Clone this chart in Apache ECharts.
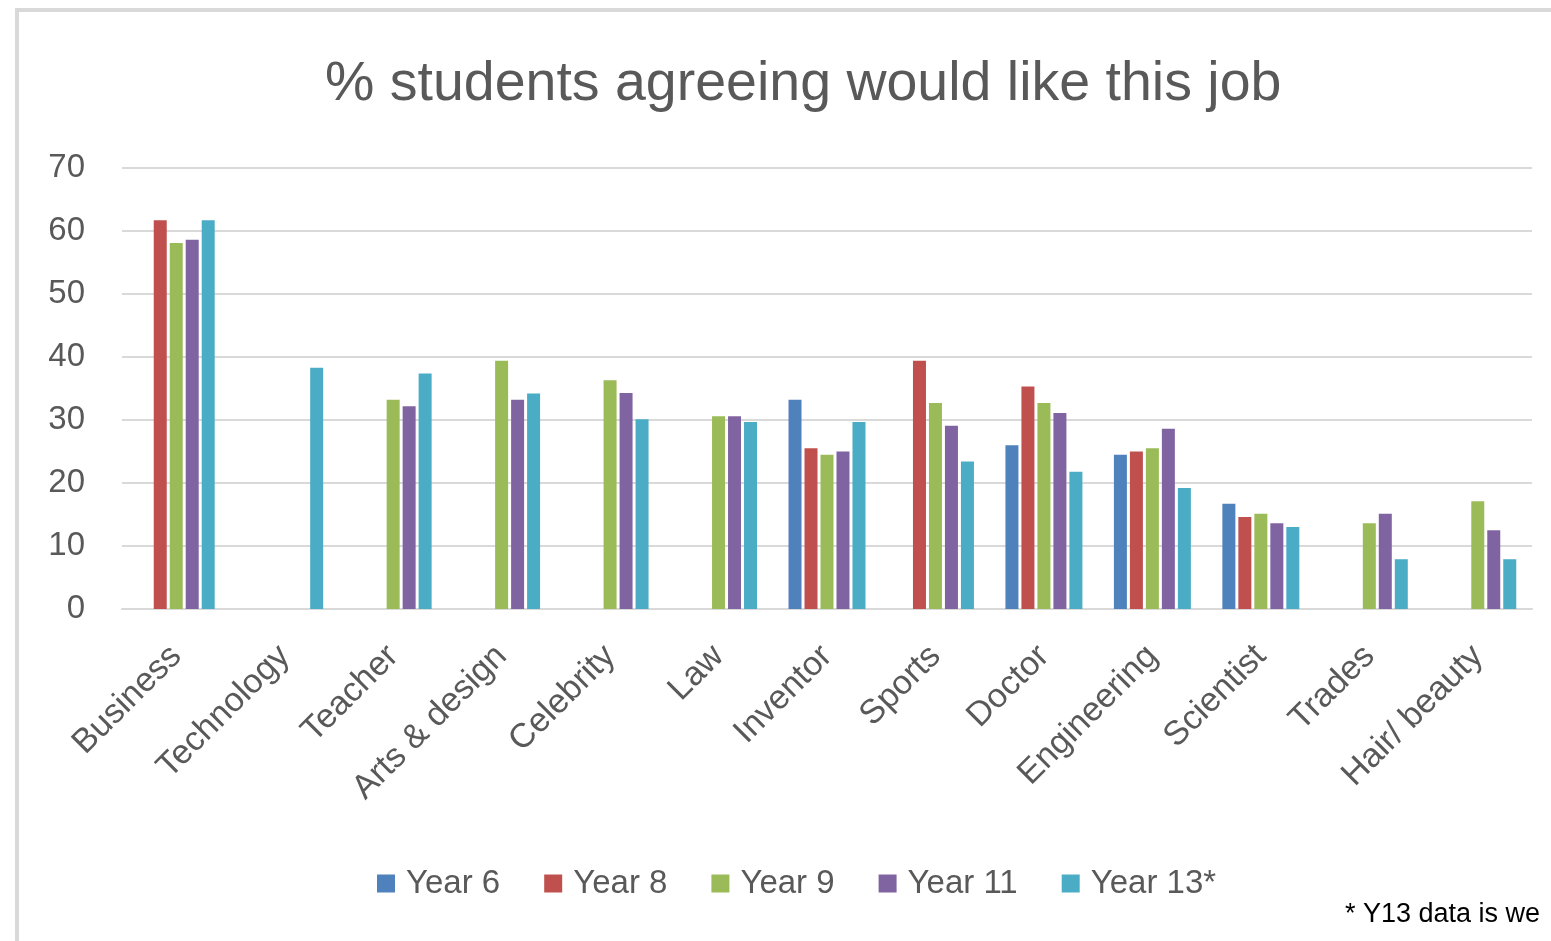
<!DOCTYPE html>
<html>
<head>
<meta charset="utf-8">
<title>% students agreeing would like this job</title>
<script src="https://cdn.jsdelivr.net/npm/echarts@6/dist/echarts.min.js"></script>
<style>
  html, body { margin: 0; padding: 0; background: #fff; }
  #chart { width: 1551px; height: 941px; }
</style>
</head>
<body>
<div id="chart"></div>
<script>
// categories (jobs)
const jobs = ["Business", "Technology", "Teacher", "Arts & design", "Celebrity", "Law",
  "Inventor", "Sports", "Doctor", "Engineering", "Scientist", "Trades", "Hair/ beauty"];

// % per year group, null = no bar
const year6  = [null, null, null, null, null, null, 33.2, null, 26.0, 24.5, 16.7, null, null];
const year8  = [61.7, null, null, null, null, null, 25.5, 39.4, 35.3, 25.0, 14.6, null, null];
const year9  = [58.1, null, 33.2, 39.4, 36.3, 30.6, 24.5, 32.7, 32.7, 25.5, 15.1, 13.6, 17.1];
const year11 = [58.6, null, 32.2, 33.2, 34.3, 30.6, 25.0, 29.1, 31.1, 28.6, 13.6, 15.1, 12.5];
const year13 = [61.7, 38.3, 37.4, 34.2, 30.1, 29.7, 29.7, 23.4, 21.8, 19.2, 13.0, 7.9, 7.9];

const seriesNames = ["Year 6", "Year 8", "Year 9", "Year 11", "Year 13*"];
const seriesData = [year6, year8, year9, year11, year13];
const colors = ["#4F81BD", "#C0504D", "#9BBB59", "#8064A2", "#4BACC6"];

const font = "'Liberation Sans', Arial, sans-serif";
const grey = "#595959";

const chart = echarts.init(document.getElementById("chart"));

const option = {
  animation: false,
  color: colors,
  title: {
    text: "% students agreeing would like this job",
    left: 320,
    top: 52,
    textStyle: { fontFamily: font, fontSize: 55.5, fontWeight: "normal", color: grey }
  },
  legend: {
    left: 372,
    top: 862,
    itemWidth: 18,
    itemHeight: 18,
    itemGap: 44,
    icon: "rect",
    textStyle: { fontFamily: font, fontSize: 33, color: grey, padding: [0, 0, 0, 6] },
    data: seriesNames
  },
  grid: { left: 122, right: 19, top: 168, bottom: 332 },
  xAxis: {
    type: "category",
    data: jobs,
    axisTick: { show: false },
    axisLine: { lineStyle: { color: "#d9d9d9", width: 2 } },
    axisLabel: {
      rotate: 45,
      margin: 42,
      fontFamily: font,
      fontSize: 34,
      color: grey,
      interval: 0
    }
  },
  yAxis: {
    type: "value",
    min: 0,
    max: 70,
    interval: 10,
    axisLine: { show: false },
    axisTick: { show: false },
    axisLabel: { margin: 37, fontFamily: font, fontSize: 33, color: grey },
    splitLine: { lineStyle: { color: "#d9d9d9", width: 2 } }
  },
  series: seriesNames.map((name, i) => ({
    name: name,
    type: "bar",
    data: seriesData[i],
    barWidth: 13,
    barGap: "23%",
    itemStyle: { color: colors[i] }
  })),
  graphic: [
    {
      type: "rect",
      shape: { x: 17, y: 10, width: 1600, height: 1000 },
      style: { fill: "none", stroke: "#d9d9d9", lineWidth: 4 },
      silent: true
    },
    {
      type: "text",
      left: 1345,
      top: 901,
      style: { text: "* Y13 data is we", fontFamily: font, fontSize: 27, fill: "#000" },
      silent: true
    }
  ]
};

chart.setOption(option);
</script>
</body>
</html>
